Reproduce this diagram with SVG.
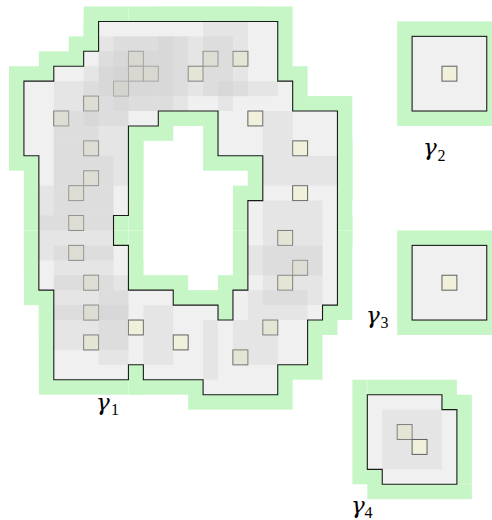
<svg xmlns="http://www.w3.org/2000/svg" width="492" height="520" viewBox="0 0 492 520">
<style>
.halo{fill:#c6f6c6}
.seam{stroke:#dcfadc;stroke-width:0.8;fill:none}
.base{fill:#ffffff;fill-rule:evenodd}
.pc{fill:#ffffe2;stroke:#333333;stroke-width:1}
.zone{fill:#cccccc;fill-opacity:0.294}
.edge{fill:none;stroke:#1a1a1a;stroke-width:1.1;stroke-linejoin:miter}
.lab{font-family:"DejaVu Serif","Liberation Serif",serif;font-style:italic;font-size:23px;fill:#000}
.sub{font-family:"Liberation Serif","Times New Roman",serif;font-style:normal;font-size:16px}
</style>
<rect width="492" height="520" fill="#ffffff"/>
<g transform="translate(9,6.5) scale(0.99533)">
<g id="gamma1">
<g class="halo">
<rect x="75" y="0" width="105" height="105"/><rect x="75" y="15" width="105" height="105"/><rect x="90" y="15" width="105" height="105"/><rect x="60" y="30" width="105" height="105"/><rect x="30" y="45" width="105" height="105"/><rect x="0" y="60" width="105" height="105"/><rect x="30" y="90" width="105" height="105"/><rect x="30" y="120" width="105" height="105"/><rect x="15" y="135" width="105" height="105"/><rect x="15" y="165" width="105" height="105"/><rect x="15" y="195" width="105" height="105"/><rect x="30" y="225" width="105" height="105"/><rect x="30" y="255" width="105" height="105"/><rect x="30" y="285" width="105" height="105"/><rect x="75" y="270" width="105" height="105"/><rect x="120" y="285" width="105" height="105"/><rect x="180" y="300" width="105" height="105"/><rect x="210" y="270" width="105" height="105"/><rect x="225" y="225" width="105" height="105"/><rect x="240" y="210" width="105" height="105"/><rect x="225" y="180" width="105" height="105"/><rect x="240" y="135" width="105" height="105"/><rect x="240" y="90" width="105" height="105"/><rect x="195" y="60" width="105" height="105"/><rect x="180" y="0" width="105" height="105"/><rect x="150" y="0" width="105" height="105"/><rect x="135" y="15" width="105" height="105"/>
</g>
<path class="seam" d="M120,0V15M120,360V390M120,210V240M15,225H30M105,225H135M225,225H240M330,225H345"/>
<path class="base" d="M90,15H270V75H285V105H330V300H315V315H300V360H270V390H195V375H135V360H120V375H45V285H30V150H15V75H45V60H75V45H90Z M120,120H150V105H210V150H255V195H240V285H225V315H210V300H165V285H120V240H105V210H120Z"/>
<g>
<rect class="pc" x="120" y="45" width="15" height="15"/><rect class="pc" x="120" y="60" width="15" height="15"/><rect class="pc" x="135" y="60" width="15" height="15"/><rect class="pc" x="105" y="75" width="15" height="15"/><rect class="pc" x="75" y="90" width="15" height="15"/><rect class="pc" x="45" y="105" width="15" height="15"/><rect class="pc" x="75" y="135" width="15" height="15"/><rect class="pc" x="75" y="165" width="15" height="15"/><rect class="pc" x="60" y="180" width="15" height="15"/><rect class="pc" x="60" y="210" width="15" height="15"/><rect class="pc" x="60" y="240" width="15" height="15"/><rect class="pc" x="75" y="270" width="15" height="15"/><rect class="pc" x="75" y="300" width="15" height="15"/><rect class="pc" x="75" y="330" width="15" height="15"/><rect class="pc" x="120" y="315" width="15" height="15"/><rect class="pc" x="165" y="330" width="15" height="15"/><rect class="pc" x="225" y="345" width="15" height="15"/><rect class="pc" x="255" y="315" width="15" height="15"/><rect class="pc" x="270" y="270" width="15" height="15"/><rect class="pc" x="285" y="255" width="15" height="15"/><rect class="pc" x="270" y="225" width="15" height="15"/><rect class="pc" x="285" y="180" width="15" height="15"/><rect class="pc" x="285" y="135" width="15" height="15"/><rect class="pc" x="240" y="105" width="15" height="15"/><rect class="pc" x="225" y="45" width="15" height="15"/><rect class="pc" x="195" y="45" width="15" height="15"/><rect class="pc" x="180" y="60" width="15" height="15"/>
</g>
<g class="zone">
<rect x="90" y="15" width="75" height="75"/><rect x="90" y="30" width="75" height="75"/><rect x="105" y="30" width="75" height="75"/><rect x="75" y="45" width="75" height="75"/><rect x="45" y="60" width="75" height="75"/><rect x="15" y="75" width="75" height="75"/><rect x="45" y="105" width="75" height="75"/><rect x="45" y="135" width="75" height="75"/><rect x="30" y="150" width="75" height="75"/><rect x="30" y="180" width="75" height="75"/><rect x="30" y="210" width="75" height="75"/><rect x="45" y="240" width="75" height="75"/><rect x="45" y="270" width="75" height="75"/><rect x="45" y="300" width="75" height="75"/><rect x="90" y="285" width="75" height="75"/><rect x="135" y="300" width="75" height="75"/><rect x="195" y="315" width="75" height="75"/><rect x="225" y="285" width="75" height="75"/><rect x="240" y="240" width="75" height="75"/><rect x="255" y="225" width="75" height="75"/><rect x="240" y="195" width="75" height="75"/><rect x="255" y="150" width="75" height="75"/><rect x="255" y="105" width="75" height="75"/><rect x="210" y="75" width="75" height="75"/><rect x="195" y="15" width="75" height="75"/><rect x="165" y="15" width="75" height="75"/><rect x="150" y="30" width="75" height="75"/>
</g>
<path class="edge" d="M90,15H270V75H285V105H330V300H315V315H300V360H270V390H195V375H135V360H120V375H45V285H30V150H15V75H45V60H75V45H90Z M120,120H150V105H210V150H255V195H240V285H225V315H210V300H165V285H120V240H105V210H120Z"/>
</g>
<g id="gamma2">
<rect class="halo" x="390" y="15" width="105" height="105"/>
<rect class="base" x="405" y="30" width="75" height="75"/>
<rect class="pc" x="435" y="60" width="15" height="15"/>
<rect class="zone" x="405" y="30" width="75" height="75"/>
<rect class="edge" x="405" y="30" width="75" height="75"/>
</g>
<g id="gamma3">
<rect class="halo" x="390" y="225" width="105" height="105"/>
<rect class="base" x="405" y="240" width="75" height="75"/>
<rect class="pc" x="435" y="270" width="15" height="15"/>
<rect class="zone" x="405" y="240" width="75" height="75"/>
<rect class="edge" x="405" y="240" width="75" height="75"/>
</g>
<g id="gamma4">
<rect class="halo" x="345" y="375" width="105" height="105"/>
<rect class="halo" x="360" y="390" width="105" height="105"/>
<path class="seam" d="M360,375V390M450,480H465"/>
<path class="base" d="M360,390H435V405H450V480H375V465H360Z"/>
<rect class="pc" x="390" y="420" width="15" height="15"/>
<rect class="zone" x="360" y="390" width="75" height="75"/>
<rect class="pc" x="405" y="435" width="15" height="15"/>
<rect class="zone" x="375" y="405" width="75" height="75"/>
<path class="edge" d="M360,390H435V405H450V480H375V465H360Z"/>
</g>
</g>
<g id="labels">
<text class="lab" x="96" y="409.5">γ<tspan class="sub" x="111" y="414.5">1</tspan></text>
<text class="lab" x="423" y="155">γ<tspan class="sub" x="437.5" y="160.5">2</tspan></text>
<text class="lab" x="366" y="322.7">γ<tspan class="sub" x="380.5" y="328.2">3</tspan></text>
<text class="lab" x="351" y="512.6">γ<tspan class="sub" x="364.5" y="518">4</tspan></text>
</g>
</svg>
